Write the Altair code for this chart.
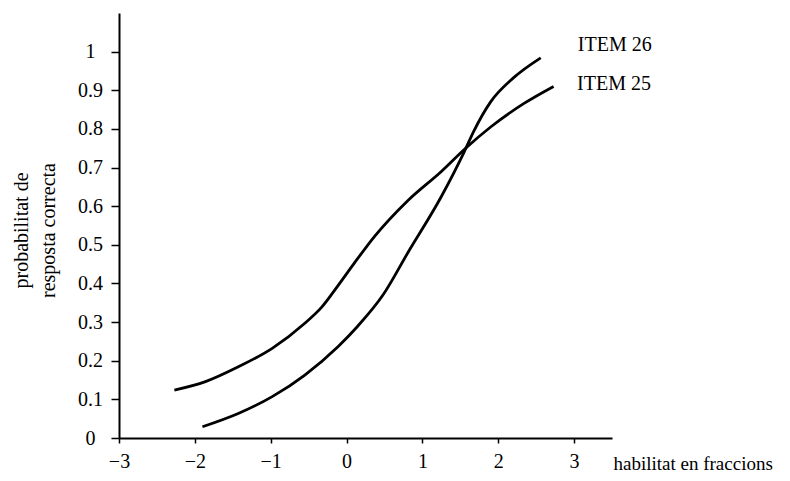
import altair as alt
import pandas as pd

# Data
item25_x = [-2.27, -1.86, -1.42, -0.98, -0.55, -0.33, -0.11, 0.10, 0.37, 0.81, 1.25, 1.57, 1.90, 2.34, 2.73]
item25_y = [0.124, 0.146, 0.185, 0.232, 0.297, 0.338, 0.395, 0.452, 0.522, 0.615, 0.69, 0.75, 0.805, 0.866, 0.910]

item26_x = [-1.90, -1.42, -0.98, -0.55, -0.11, 0.15, 0.48, 0.81, 1.25, 1.55, 1.68, 1.90, 2.20, 2.56]
item26_y = [0.029, 0.064, 0.107, 0.163, 0.237, 0.29, 0.37, 0.48, 0.625, 0.74, 0.795, 0.87, 0.932, 0.984]

label_text = ["ITEM 26", "ITEM 25"]
label_x = [3.05, 3.04]
label_y = [1.018, 0.917]

x_ticks = [-3, -2, -1, 0, 1, 2, 3]
y_ticks = [0, 0.1, 0.2, 0.3, 0.4, 0.5, 0.6, 0.7, 0.8, 0.9, 1]

FONT = "Liberation Serif"

curves = pd.DataFrame(
    {"x": item25_x, "y": item25_y, "item": ["ITEM 25"] * len(item25_x)}
)
curves = pd.concat(
    [curves, pd.DataFrame({"x": item26_x, "y": item26_y, "item": ["ITEM 26"] * len(item26_x)})],
    ignore_index=True,
)
labels = pd.DataFrame({"x": label_x, "y": label_y, "text": label_text})

xscale = alt.Scale(domain=[-3, 3.5], nice=False, zero=False)
yscale = alt.Scale(domain=[0, 1.1], nice=False)

xaxis = alt.Axis(
    values=x_ticks,
    labelExpr="datum.value < 0 ? '\u2212' + abs(datum.value) : '' + datum.value",
    grid=False,
    domainColor="black",
    domainWidth=2,
    tickColor="black",
    tickWidth=1.5,
    tickSize=5,
    labelFont=FONT,
    labelFontSize=20,
    labelColor="black",
    labelPadding=8,
    labelFlush=False,
    title="habilitat en fraccions",
    titleFont=FONT,
    titleFontSize=19,
    titleFontWeight="normal",
    titleColor="black",
    titleX=494,
    titleY=25,
    titleAlign="left",
    titleBaseline="middle",
    titleAngle=0,
)

yaxis = alt.Axis(
    values=y_ticks,
    labelExpr="format(datum.value, '.1~f')",
    grid=False,
    domainColor="black",
    domainWidth=2,
    tickColor="black",
    tickWidth=1.5,
    tickSize=8,
    labelFont=FONT,
    labelFontSize=20,
    labelColor="black",
    labelAlign="center",
    labelBaseline="middle",
    labelPadding=21,
    labelFlush=False,
    title=["probabilitat de", "resposta correcta"],
    titleFont=FONT,
    titleFontSize=20,
    titleFontWeight="normal",
    titleColor="black",
    titleLineHeight=27,
    titleX=-92,
    titleY=217,
    titleAngle=270,
    titleAlign="center",
    titleBaseline="alphabetic",
)

lines = (
    alt.Chart(curves)
    .mark_line(strokeWidth=2.8, interpolate="monotone", color="black")
    .encode(
        x=alt.X("x:Q", scale=xscale, axis=xaxis),
        y=alt.Y("y:Q", scale=yscale, axis=yaxis),
        detail="item:N",
    )
)

texts = (
    alt.Chart(labels)
    .mark_text(font=FONT, fontSize=20, align="left", baseline="middle", color="black")
    .encode(
        x=alt.X("x:Q", scale=xscale),
        y=alt.Y("y:Q", scale=yscale),
        text="text:N",
    )
)

chart = (
    alt.layer(lines, texts)
    .properties(
        width=493,
        height=425,
        autosize=alt.AutoSizeParams(type="none"),
        padding={"left": 111, "top": 5, "right": 170, "bottom": 35},
        background="white",
    )
    .configure_view(stroke=None)
)

chart.save("out.html", embed_options={"renderer": "svg", "actions": False})
